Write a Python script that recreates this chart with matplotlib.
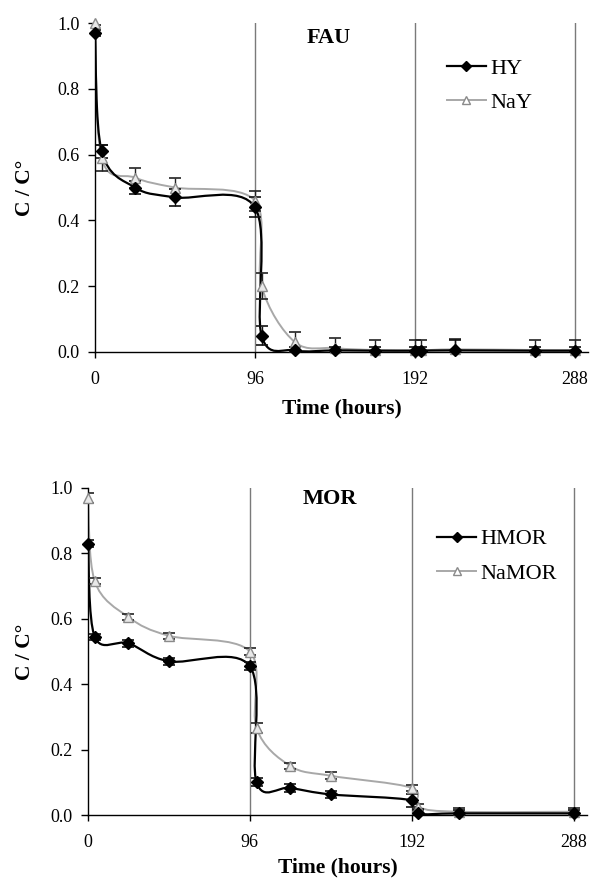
import numpy as np
import matplotlib
matplotlib.use("Agg")
import matplotlib.pyplot as plt
from matplotlib.path import Path
from matplotlib.patches import PathPatch
from matplotlib.lines import Line2D

plt.rcParams['font.family'] = ['Liberation Serif', 'DejaVu Serif']

# ---- FAU data ----
fau_time = [0, 4, 24, 48, 96, 100, 120, 144, 168, 192, 196, 216, 264, 288]
hy_vals = [0.97, 0.61, 0.50, 0.47, 0.44, 0.05, 0.005, 0.005, 0.004, 0.004, 0.004, 0.005, 0.004, 0.004]
hy_err = [0.01, 0.02, 0.02, 0.025, 0.03, 0.03, 0.01, 0.01, 0.01, 0.01, 0.01, 0.03, 0.01, 0.01]
nay_vals = [1.0, 0.59, 0.53, 0.50, 0.46, 0.20, 0.03, 0.012, 0.006, 0.005, 0.005, 0.008, 0.006, 0.006]
nay_err = [0.005, 0.04, 0.03, 0.03, 0.03, 0.04, 0.03, 0.03, 0.03, 0.03, 0.03, 0.03, 0.03, 0.03]

# ---- MOR data ----
mor_time = [0, 4, 24, 48, 96, 100, 120, 144, 192, 196, 220, 288]
hmor_vals = [0.83, 0.545, 0.525, 0.47, 0.455, 0.10, 0.083, 0.063, 0.045, 0.005, 0.005, 0.005]
hmor_err = [0.01, 0.01, 0.01, 0.01, 0.012, 0.012, 0.012, 0.01, 0.02, 0.012, 0.01, 0.01]
namor_vals = [0.97, 0.715, 0.605, 0.548, 0.50, 0.265, 0.15, 0.12, 0.083, 0.025, 0.01, 0.01]
namor_err = [0.015, 0.01, 0.01, 0.01, 0.01, 0.015, 0.01, 0.01, 0.01, 0.01, 0.01, 0.01]

xticks = [0, 96, 192, 288]
yticks = [0.0, 0.2, 0.4, 0.6, 0.8, 1.0]

DARK = 'black'
LIGHT = '#a8a8a8'
VLINE = '#7a7a7a'


def smooth_path(x, y):
    """Excel-style smoothed line: cubic Bezier segments through data points."""
    pts = np.column_stack([x, y]).astype(float)
    n = len(pts)
    verts = [pts[0]]
    codes = [Path.MOVETO]
    for i in range(n - 1):
        p0 = pts[i - 1] if i > 0 else pts[i]
        p1 = pts[i]
        p2 = pts[i + 1]
        p3 = pts[i + 2] if i + 2 < n else pts[i + 1]
        c1 = p1 + (p2 - p0) / 6.0
        c2 = p2 - (p3 - p1) / 6.0
        verts += [c1, c2, p2]
        codes += [Path.CURVE4] * 3
    return Path(verts, codes)


def panel(ax, t, a_vals, a_err, b_vals, b_err, title, a_name, b_name, leg_anchor, title_xy,
          xlabelpad):
    for xv in [96, 192, 288]:
        ax.plot([xv, xv], [0, 1.0], color=VLINE, lw=1.0, zorder=1)
    # lines
    ax.add_patch(PathPatch(smooth_path(t, b_vals), fill=False, edgecolor=LIGHT, lw=1.4, zorder=2))
    ax.add_patch(PathPatch(smooth_path(t, a_vals), fill=False, edgecolor=DARK, lw=1.6, zorder=3))
    # error bars (clipped at the axis) + markers
    ax.errorbar(t, b_vals, yerr=b_err, fmt='none', ecolor='#222222', elinewidth=1.0,
                capsize=4.5, capthick=1.2, zorder=4)
    ax.errorbar(t, a_vals, yerr=a_err, fmt='none', ecolor='#111111', elinewidth=1.0,
                capsize=4.5, capthick=1.2, zorder=4)
    ax.plot(t, b_vals, ls='none', marker='^', ms=7, mfc='#e8e8e8', mec='#8a8a8a', mew=1.0,
            zorder=5, clip_on=False)
    ax.plot(t, a_vals, ls='none', marker='D', ms=6.5, mfc=DARK, mec=DARK, zorder=6, clip_on=False)
    ax.set_xlim(0, 296)
    ax.set_ylim(0, 1.0)
    ax.set_xticks(xticks)
    ax.set_xticklabels([str(v) for v in xticks])
    ax.set_yticks(yticks)
    ax.set_yticklabels([f"{v:.1f}" for v in yticks])
    for s in ['top', 'right']:
        ax.spines[s].set_visible(False)
    for s in ['left', 'bottom']:
        ax.spines[s].set_linewidth(1.0)
    ax.tick_params(axis='y', direction='out', length=5, width=1, labelsize=13, pad=6)
    ax.tick_params(axis='x', direction='out', length=4, width=1, labelsize=13, pad=10)
    ax.set_xlabel('Time (hours)', fontsize=15.5, fontweight='bold', labelpad=xlabelpad)
    ax.set_ylabel('C / C°', fontsize=15.5, fontweight='bold')
    ax.text(title_xy[0], title_xy[1], title, transform=ax.transAxes, fontsize=16, fontweight='bold',
            ha='left', va='center')
    handles = [Line2D([], [], color=DARK, lw=1.6, marker='D', ms=5, mfc=DARK),
               Line2D([], [], color=LIGHT, lw=1.4, marker='^', ms=6, mfc='white', mec='#8a8a8a')]
    ax.legend(handles, [a_name, b_name], loc='upper left', bbox_to_anchor=leg_anchor,
              frameon=False, fontsize=16, handlelength=1.75, handletextpad=0.2,
              labelspacing=0.62, borderpad=0.0, borderaxespad=0.0)


W, H = 591, 883
fig = plt.figure(figsize=(W / 100, H / 100), dpi=100)

ax1 = fig.add_axes([95 / W, (H - 352) / H, (588 - 95) / W, (352 - 23) / H])
panel(ax1, fau_time, hy_vals, hy_err, nay_vals, nay_err, 'FAU', 'HY', 'NaY',
      (0.714, 0.893), (0.43, 0.955), 7)
ax1.yaxis.set_label_coords(-0.122, 0.5)

ax2 = fig.add_axes([88 / W, (H - 815) / H, (587 - 88) / W, (815 - 488) / H])
panel(ax2, mor_time, hmor_vals, hmor_err, namor_vals, namor_err, 'MOR', 'HMOR', 'NaMOR',
      (0.70, 0.875), (0.43, 0.967), 4)
ax2.yaxis.set_label_coords(-0.106, 0.5)

fig.savefig('out.png', dpi=100)
